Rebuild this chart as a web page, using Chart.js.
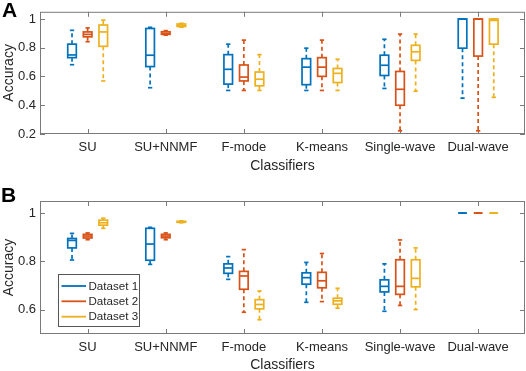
<!DOCTYPE html>
<html><head><meta charset="utf-8">
<script src="https://cdn.jsdelivr.net/npm/chart.js@4"></script>
<style>
html,body{margin:0;padding:0;background:#fff;overflow:hidden;width:526px;height:371px;}
canvas{position:absolute;left:0;}
.lab{position:absolute;font:bold 21px 'Liberation Sans',Arial,sans-serif;line-height:21px;color:#000;}
</style></head><body>
<canvas id="ca" width="526" height="185" style="top:0;width:526px;height:185px"></canvas>
<canvas id="cb" width="526" height="195" style="top:185px;width:526px;height:195px"></canvas>
<div class="lab" style="left:2px;top:-1px">A</div>
<div class="lab" style="left:1px;top:184px">B</div>
<script>
// ---- data ----
const categories = ['SU', 'SU+NNMF', 'F-mode', 'K-means', 'Single-wave', 'Dual-wave'];
const seriesNames = ['Dataset 1', 'Dataset 2', 'Dataset 3'];
// each entry: [lower whisker, Q1, median, Q3, upper whisker]
const panelA_dataset1 = [[0.682,0.731,0.750,0.825,0.921],[0.522,0.669,0.748,0.934,0.942],[0.503,0.547,0.650,0.752,0.825],[0.503,0.543,0.665,0.724,0.797],[0.517,0.607,0.678,0.748,0.859],[0.449,0.797,1.000,1.000,1.000]];
const panelA_dataset2 = [[0.842,0.876,0.893,0.910,0.938],[0.887,0.893,0.900,0.911,0.919],[0.503,0.569,0.596,0.680,0.853],[0.503,0.601,0.665,0.731,0.853],[0.222,0.400,0.511,0.635,0.895],[0.222,0.742,1.000,1.000,1.000]];
const panelA_dataset3 = [[0.569,0.810,0.910,0.958,0.992],[0.943,0.948,0.955,0.965,0.970],[0.503,0.535,0.581,0.631,0.752],[0.503,0.558,0.622,0.656,0.720],[0.498,0.712,0.772,0.817,0.895],[0.455,0.825,0.990,1.000,1.000]];
const panelB_dataset1 = [[0.806,0.856,0.887,0.895,0.916],[0.788,0.805,0.872,0.937,0.941],[0.726,0.751,0.773,0.790,0.820],[0.631,0.706,0.733,0.753,0.796],[0.594,0.674,0.697,0.724,0.790],[1,1,1,1,1]];
const panelB_dataset2 = [[0.890,0.897,0.905,0.912,0.918],[0.890,0.898,0.905,0.912,0.918],[0.590,0.685,0.740,0.759,0.849],[0.634,0.691,0.720,0.755,0.833],[0.618,0.664,0.697,0.807,0.889],[1,1,1,1,1]];
const panelB_dataset3 = [[0.937,0.950,0.960,0.971,0.979],[0.960,0.962,0.964,0.966,0.968],[0.559,0.604,0.622,0.642,0.678],[0.607,0.623,0.637,0.648,0.689],[0.601,0.695,0.730,0.807,0.856],[1,1,1,1,1]];
const yTicksA = [0.2, 0.4, 0.6, 0.8, 1];
const yTickLabelsA = ['0.2', '0.4', '0.6', '0.8', '1'];
const yTicksB = [0.6, 0.8, 1];
const yTickLabelsB = ['0.6', '0.8', '1'];

// ---- style ----
const colors = ['#0072BD', '#D95319', '#EDB120'];
const offsets = [-0.2, 0, 0.2];
const boxWidth = 0.11;
const FAM = "'Liberation Sans', Arial, Helvetica, sans-serif";
const TXT = '#262626';
const AX = '#7a7a7a';

function seg(ctx, x1, y1, x2, y2) { ctx.beginPath(); ctx.moveTo(x1, y1); ctx.lineTo(x2, y2); ctx.stroke(); }

const boxPlugin = {
  id: 'boxes',
  afterDatasetsDraw(chart, args, opts) {
    const ctx = chart.ctx, ca = chart.chartArea, x = chart.scales.x, y = chart.scales.y;
    ctx.save();
    // frame
    ctx.strokeStyle = AX; ctx.lineWidth = 1; ctx.setLineDash([]);
    ctx.strokeRect(ca.left + 0.5, ca.top + 0.5, ca.right - ca.left - 1, ca.bottom - ca.top - 1);
    const tl = 5;
    x.ticks.forEach(t => {
      const px = Math.round(x.getPixelForValue(t.value)) + 0.5;
      seg(ctx, px, ca.bottom, px, ca.bottom - tl);
      seg(ctx, px, ca.top, px, ca.top + tl);
    });
    y.ticks.forEach(t => {
      const py = Math.round(y.getPixelForValue(t.value)) + 0.5;
      seg(ctx, ca.left, py, ca.left + tl, py);
      seg(ctx, ca.right, py, ca.right - tl, py);
    });
    // boxes
    chart.data.datasets.forEach((ds, di) => {
      ds.stats.forEach((s, ci) => {
        const cx = x.getPixelForValue(ci + 1 + offsets[di]);
        const hw = (x.getPixelForValue(boxWidth) - x.getPixelForValue(0)) / 2;
        const [mn, q1, md, q3, mx] = s.map(v => y.getPixelForValue(v));
        ctx.strokeStyle = ds.borderColor; ctx.lineWidth = 1.7;
        ctx.setLineDash([4, 3]);
        if (mx < q3) seg(ctx, cx, q3, cx, mx);
        if (mn > q1) seg(ctx, cx, q1, cx, mn);
        ctx.setLineDash([]);
        seg(ctx, cx - hw / 2, mx, cx + hw / 2, mx);
        seg(ctx, cx - hw / 2, mn, cx + hw / 2, mn);
        ctx.strokeRect(cx - hw, q3, 2 * hw, q1 - q3);
        seg(ctx, cx - hw, md, cx + hw, md);
      });
    });
    // legend
    if (opts.legend) {
      const bx = ca.left + 18.5, by = ca.bottom - 59.5, w = 81, h = 52;
      ctx.fillStyle = '#fff';
      ctx.fillRect(bx, by, w, h);
      ctx.strokeStyle = '#555'; ctx.lineWidth = 1;
      ctx.strokeRect(bx, by, w, h);
      const rows = [11.5, 26.8, 42.2];
      ctx.font = '11.6px ' + FAM;
      ctx.textBaseline = 'middle'; ctx.textAlign = 'left';
      chart.data.datasets.forEach((ds, di) => {
        const ry = by + rows[di];
        ctx.strokeStyle = ds.borderColor; ctx.lineWidth = 1.8;
        seg(ctx, bx + 3, ry, bx + 27.5, ry);
        ctx.fillStyle = TXT;
        ctx.fillText(ds.label, bx + 30, ry + 0.5);
      });
    }
    ctx.restore();
  }
};

function makeChart(id, stats, yMin, yMax, yTicks, yLabels, padTop, xHeight, titlePadBottom, showLegend) {
  return new Chart(document.getElementById(id), {
    type: 'scatter',
    data: {
      datasets: seriesNames.map((n, i) => ({ label: n, data: [], stats: stats[i], borderColor: colors[i], backgroundColor: colors[i] }))
    },
    options: {
      responsive: false, animation: false, devicePixelRatio: 1,
      layout: { padding: { left: 0, right: 1, top: padTop, bottom: 0 } },
      plugins: { legend: { display: false }, tooltip: { enabled: false }, boxes: { legend: showLegend } },
      scales: {
        x: {
          type: 'linear', min: 0.39, max: 6.6,
          grid: { display: false, drawTicks: false }, border: { display: false },
          afterBuildTicks: s => { s.ticks = categories.map((c, i) => ({ value: i + 1 })); },
          ticks: { padding: 6, color: TXT, font: { family: FAM, size: 13 }, autoSkip: false, maxRotation: 0,
                   callback: (v, i) => categories[i] },
          title: { display: true, text: 'Classifiers', color: TXT, font: { family: FAM, size: 14 }, padding: { top: 0, bottom: titlePadBottom } },
          afterFit: s => { s.height = xHeight; }
        },
        y: {
          type: 'linear', min: yMin, max: yMax,
          grid: { display: false, drawTicks: false }, border: { display: false },
          afterBuildTicks: s => { s.ticks = yTicks.map(v => ({ value: v })); },
          ticks: { padding: 4, color: TXT, font: { family: FAM, size: 13 }, callback: (v, i) => yLabels[i] },
          title: { display: true, text: 'Accuracy', color: TXT, font: { family: FAM, size: 14 }, padding: { top: 0.5, bottom: 0 } },
          afterFit: s => { s.width = 40; }
        }
      }
    },
    plugins: [boxPlugin]
  });
}

makeChart('ca', [panelA_dataset1, panelA_dataset2, panelA_dataset3], 0.2, 1.05, yTicksA, yTickLabelsA, 1, 51, 10.3, false);
makeChart('cb', [panelB_dataset1, panelB_dataset2, panelB_dataset3], 0.5, 1.05, yTicksB, yTickLabelsB, 16, 46, 6.6, true);
</script>
</body></html>
